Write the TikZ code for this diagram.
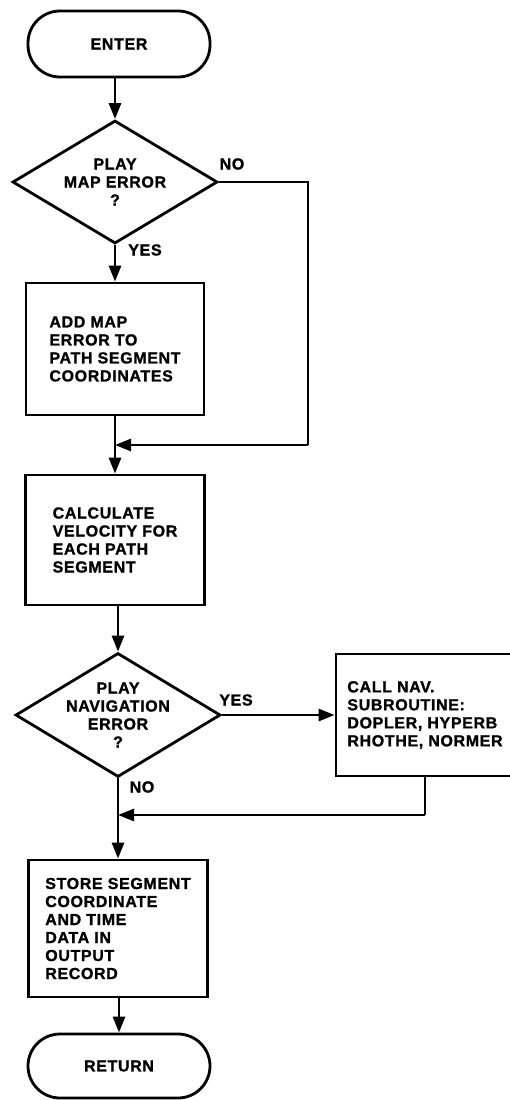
\documentclass[tikz,border=0pt]{standalone}
\usepackage{fontspec}
\setmainfont{Liberation Sans}[LetterSpace=4,BoldFeatures={FakeBold=1.2}]
\usetikzlibrary{shapes.geometric,arrows.meta}
\begin{document}
\begin{tikzpicture}[x=1pt,y=-1pt,
  every node/.style={font=\fontsize{16}{18}\selectfont\bfseries},
  ln/.style={line width=2.8pt,line join=miter},
  arr/.style={ln,-{Triangle[length=16pt,width=12pt]}},
  term/.style={draw,ln,rounded corners=32pt,minimum width=182pt,minimum height=66pt,inner sep=0pt},
  proc/.style={draw,ln,align=left,inner sep=0pt},
  dec/.style={draw,ln,diamond,minimum width=205pt,minimum height=123pt,inner sep=0pt,aspect=1.67},
  lab/.style={inner sep=0pt}
]
\useasboundingbox (0,0) rectangle (510,1100);

% nodes
\node[term] (enter) at (119,44) {ENTER};
\node[dec,label={[align=center,lab]center:PLAY\\MAP ERROR\\?}] (d1) at (115,182) {};
\node[proc,minimum width=178pt,minimum height=132pt] (box1) at (115,349)
  {ADD MAP\\ERROR TO\\PATH SEGMENT\\COORDINATES};
\node[proc,minimum width=179pt,minimum height=130pt] (box2) at (115,540)
  {CALCULATE\\VELOCITY FOR\\EACH PATH\\SEGMENT};
\node[dec,minimum height=124pt,label={[align=center,lab]center:PLAY\\NAVIGATION\\ERROR\\?}] (d2) at (118,715) {};
\node[proc,minimum width=178pt,minimum height=122pt] (nav) at (425,715)
  {CALL NAV.\\SUBROUTINE:\\DOPLER, HYPERB\\RHOTHE, NORMER};
\node[proc,minimum width=179pt,minimum height=137pt] (box3) at (118,928.5)
  {STORE SEGMENT\\COORDINATE\\AND TIME\\DATA IN\\OUTPUT\\RECORD};
\node[term,minimum height=64pt] (ret) at (119,1066) {RETURN};

% labels
\node[lab] (no1) at (232,164) {NO};
\node[lab] (yes1) at (145,250) {YES};
\node[lab] (yes2) at (236,700) {YES};
\node[lab] (no2) at (142,787) {NO};

% connector points
\coordinate (c1) at (308,445);
\coordinate (m1) at (115,445);
\coordinate (c2) at (425,815);
\coordinate (m2) at (118,815);

% connectors
\draw[arr] (enter.south -| d1.north) -- (d1.north);
\draw[arr] (d1.south) -- (box1.north);
\draw[ln] (d1.east) -| (c1);
\draw[arr] (c1) -- (m1);
\draw[arr] (box1.south) -- (box2.north);
\draw[arr] (box2.south -| d2.north) -- (d2.north);
\draw[arr] (d2.east) -- (nav.west);
\draw[ln] (nav.south) -- (c2);
\draw[arr] (c2) -- (m2);
\draw[arr] (d2.south) -- (box3.north);
\draw[arr] (box3.south -| ret.north) -- (ret.north);
\end{tikzpicture}
\end{document}
